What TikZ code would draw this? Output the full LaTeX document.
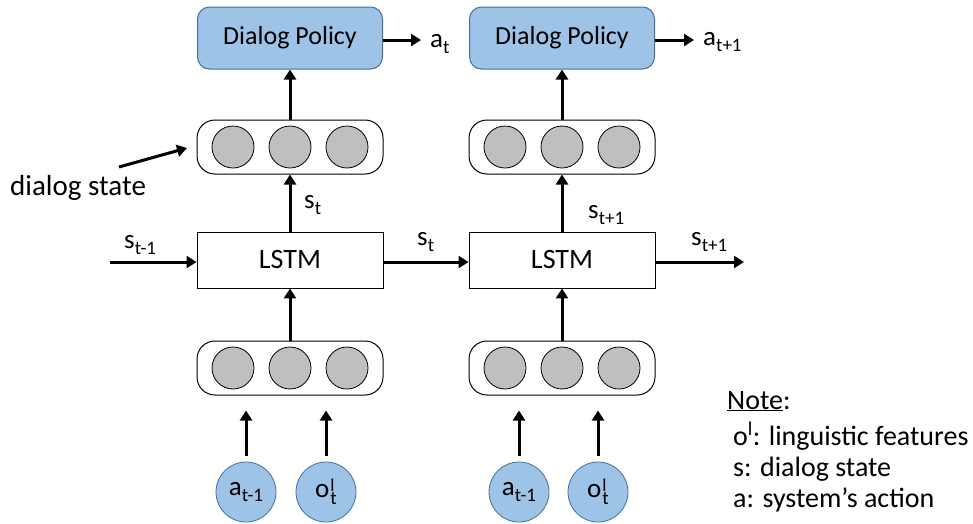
\documentclass[tikz,border=0pt]{standalone}
\usepackage{fontspec}
\setmainfont{Carlito}
\usetikzlibrary{arrows.meta}
\definecolor{polfill}{HTML}{9DC3E6}
\definecolor{poldraw}{HTML}{41719C}
\definecolor{unitfill}{HTML}{BFBFBF}
\tikzset{
  policy/.style={draw=poldraw, fill=polfill, line width=1pt, rounded corners=12pt,
    minimum width=185pt, minimum height=62pt, font=\fontsize{26}{30}\selectfont},
  lstmbox/.style={draw, line width=0.9pt, minimum width=186pt, minimum height=56pt,
    font=\fontsize{28}{32}\selectfont},
  vecbox/.style={draw, line width=1pt, rounded corners=18pt,
    minimum width=186pt, minimum height=54pt},
  unit/.style={circle, draw, fill=unitfill, line width=0.8pt, minimum size=42pt, inner sep=0pt},
  inp/.style={circle, draw=poldraw, fill=polfill, line width=0.8pt, minimum size=60pt,
    inner sep=0pt, font=\fontsize{27}{30}\selectfont},
  conn/.style={line width=3pt, -{Triangle[length=10pt, width=12pt]}},
  lbl/.style={font=\fontsize{27}{30}\selectfont, inner sep=0pt, anchor=base west},
  notetext/.style={font=\fontsize{28}{32}\selectfont, anchor=base west, inner sep=0pt}
}
% lowered index and raised mark, sized like the labels
\newcommand{\idx}[1]{\raisebox{-0.24em}{\fontsize{19}{20}\selectfont #1}}
\newcommand{\mrk}[1]{\raisebox{0.22em}{\fontsize{18}{20}\selectfont #1}}
\newcommand{\ol}{o\kern1pt\rlap{\mrk{l}}\idx{t}}
\begin{document}
\begin{tikzpicture}[x=1pt, y=-1pt]
\useasboundingbox (0,0) rectangle (973,523);

% time step t
\node[policy] (p1) at (290,38) {Dialog Policy};
\node[vecbox] (v1) at (290,147) {};
\node[unit] (v1a) at (233,147) {};
\node[unit] (v1b) at (290,147) {};
\node[unit] (v1c) at (347,147) {};
\node[lstmbox] (l1) at (290,260) {LSTM};
\node[vecbox] (u1) at (290,368) {};
\node[unit] (u1a) at (233,368) {};
\node[unit] (u1b) at (290,368) {};
\node[unit] (u1c) at (347,368) {};
\node[inp] (a1) at (246,492) {a\idx{t-1}};
\node[inp] (o1) at (326,492) {\ol};

% time step t+1
\node[policy] (p2) at (562,38) {Dialog Policy};
\node[vecbox] (v2) at (562,147) {};
\node[unit] (v2a) at (505,147) {};
\node[unit] (v2b) at (562,147) {};
\node[unit] (v2c) at (619,147) {};
\node[lstmbox] (l2) at (562,260) {LSTM};
\node[vecbox] (u2) at (562,368) {};
\node[unit] (u2a) at (505,368) {};
\node[unit] (u2b) at (562,368) {};
\node[unit] (u2c) at (619,368) {};
\node[inp] (a2) at (519,492) {a\idx{t-1}};
\node[inp] (o2) at (598,492) {\ol};

% free ends
\coordinate (sin) at (110,262);
\coordinate (sout) at (744,262);
\coordinate (act1) at (421,40);
\coordinate (act2) at (694,40);
\coordinate (dsfrom) at (119,167);
\coordinate (dsto) at (187,148);

% connectors
\draw[conn] (sin) -- (sin -| l1.west);
\draw[conn] (l1.east |- sin) -- (l2.west |- sin);
\draw[conn] (l2.east |- sout) -- (sout);
\draw[conn] (l1.north) -- (v1.south);
\draw[conn] (l2.north) -- (v2.south);
\draw[conn] (v1.north) -- (p1.south);
\draw[conn] (v2.north) -- (p2.south);
\draw[conn] (u1.north) -- (l1.south);
\draw[conn] (u2.north) -- (l2.south);
\draw[conn] (p1.east |- act1) -- (act1);
\draw[conn] (p2.east |- act2) -- (act2);
\draw[conn] ([yshift=6pt]a1.north) -- ([yshift=-15pt]a1.north |- u1.south);
\draw[conn] ([yshift=6pt]o1.north) -- ([yshift=-15pt]o1.north |- u1.south);
\draw[conn] ([yshift=6pt]a2.north) -- ([yshift=-15pt]a2.north |- u2.south);
\draw[conn] ([yshift=6pt]o2.north) -- ([yshift=-15pt]o2.north |- u2.south);
\draw[conn] (dsfrom) -- (dsto);

% labels
\node[lbl] (ls0) at (124,248) {s\idx{t-1}};
\node[lbl] (ls1) at (417,245) {s\idx{t}};
\node[lbl] (ls2) at (691,245) {s\idx{t+1}};
\node[lbl] (lv1) at (304,208) {s\idx{t}};
\node[lbl] (lv2) at (588,218) {s\idx{t+1}};
\node[lbl] (la1) at (430,47) {a\idx{t}};
\node[lbl] (la2) at (703,45) {a\idx{t+1}};
\node[font=\fontsize{29}{32}\selectfont, anchor=base west, inner sep=0pt] (ds) at (10,195) {dialog state};

% note
\node[notetext] (n0) at (727,409) {\underline{Note}:};
\node[notetext] (n1) at (733,445) {o\textsuperscript{l}: linguistic features};
\node[notetext] (n2) at (733,476) {s: dialog state};
\node[notetext] (n3) at (733,507) {a: system’s action};
\end{tikzpicture}
\end{document}
